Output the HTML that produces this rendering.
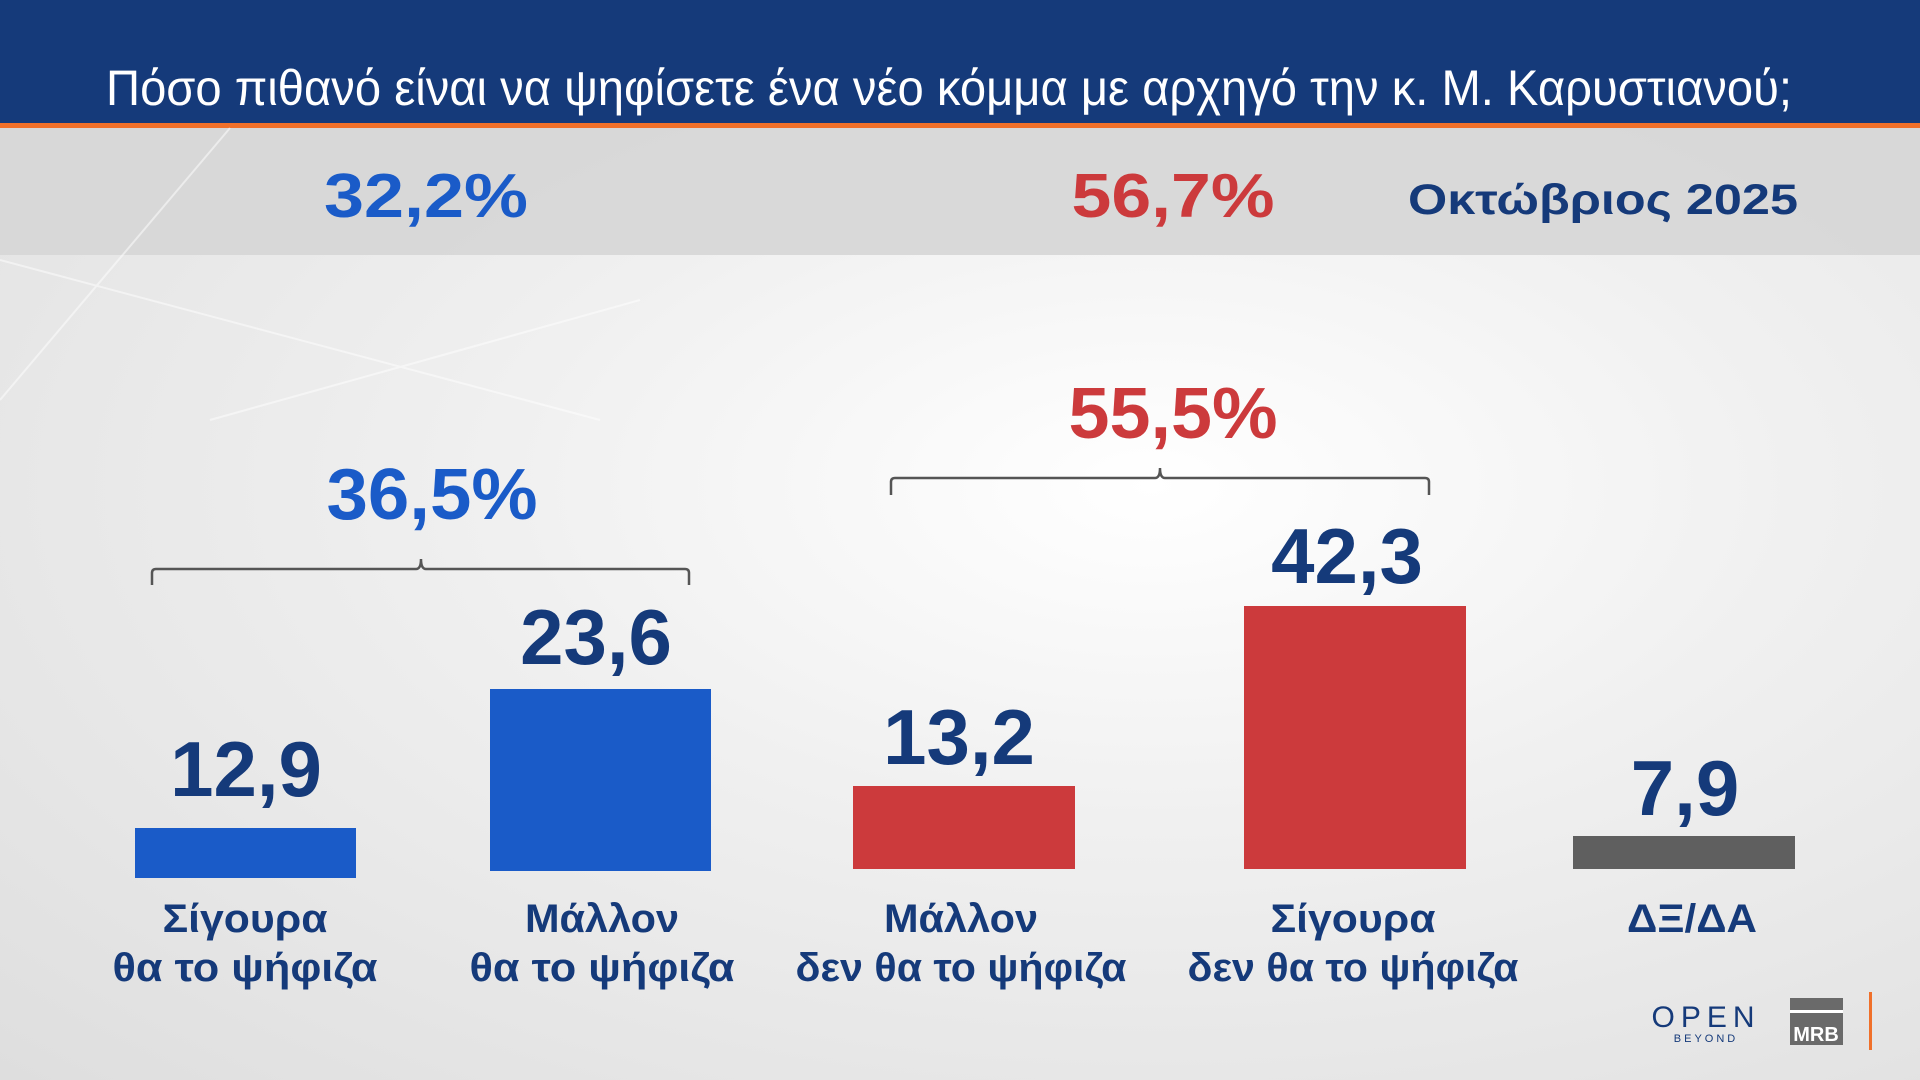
<!DOCTYPE html>
<html><head><meta charset="utf-8"><style>
html,body{margin:0;padding:0;width:1920px;height:1080px;overflow:hidden}
body{background:radial-gradient(ellipse at 60% 45%,#ffffff 0%,#f0f0f0 40%,#dedede 100%)}
svg{position:absolute;left:0;top:0}
text{font-family:"Liberation Sans",sans-serif}
</style></head><body>
<svg width="1920" height="1080" viewBox="0 0 1920 1080">
<rect x="0" y="0" width="1920" height="124" fill="#153a7a"/>
<rect x="0" y="123" width="1920" height="5" fill="#f0702a"/>
<rect x="0" y="128" width="1920" height="127" fill="#d6d6d6" opacity="0.9"/>
<g stroke="#ffffff" stroke-width="2" opacity="0.5" fill="none">
<line x1="0" y1="400" x2="230" y2="128"/><line x1="0" y1="260" x2="600" y2="420"/><line x1="210" y1="420" x2="640" y2="300"/>
</g>
<text x="949" y="105" font-size="50" fill="#fff" text-anchor="middle" textLength="1686" lengthAdjust="spacingAndGlyphs">Πόσο πιθανό είναι να ψηφίσετε ένα νέο κόμμα με αρχηγό την κ. Μ. Καρυστιανού;</text>
<g font-weight="bold" text-anchor="middle">
<text x="426" y="217" font-size="62" fill="#1a5bc8" textLength="204" lengthAdjust="spacingAndGlyphs">32,2%</text>
<text x="1173" y="217" font-size="62" fill="#cc3a3c" textLength="203" lengthAdjust="spacingAndGlyphs">56,7%</text>
<text x="1603" y="214" font-size="43" fill="#153a7a" textLength="390" lengthAdjust="spacingAndGlyphs">Οκτώβριος 2025</text>
<text x="432" y="519" font-size="72" fill="#1a5bc8" textLength="211" lengthAdjust="spacingAndGlyphs">36,5%</text>
<text x="1173" y="438" font-size="72" fill="#cc3a3c" textLength="209" lengthAdjust="spacingAndGlyphs">55,5%</text>
</g>
<g fill="none" stroke="#555" stroke-width="2.5">
<path d="M152 585 V573 Q152 569 156 569 H416 Q421 569 421 559 Q421 569 426 569 H685 Q689 569 689 573 V585"/>
<path d="M891 495 V482 Q891 478 895 478 H1155 Q1160 478 1160 468 Q1160 478 1165 478 H1425 Q1429 478 1429 482 V495"/>
</g>
<rect x="135" y="828" width="221" height="50" fill="#1a5bc8"/>
<rect x="490" y="689" width="221" height="182" fill="#1a5bc8"/>
<rect x="853" y="786" width="222" height="83" fill="#cc3a3c"/>
<rect x="1244" y="606" width="222" height="263" fill="#cc3a3c"/>
<rect x="1573" y="836" width="222" height="33" fill="#5f5f5f"/>
<g font-weight="bold" text-anchor="middle" fill="#153a7a" font-size="78">
<text x="246" y="796">12,9</text>
<text x="596" y="664">23,6</text>
<text x="959" y="764">13,2</text>
<text x="1347" y="583">42,3</text>
<text x="1685" y="815">7,9</text>
</g>
<g font-weight="bold" text-anchor="middle" fill="#153a7a" font-size="40">
<text x="245" y="932" textLength="165" lengthAdjust="spacingAndGlyphs">Σίγουρα</text><text x="245" y="981" textLength="265" lengthAdjust="spacingAndGlyphs">θα το ψήφιζα</text>
<text x="602" y="932" textLength="154" lengthAdjust="spacingAndGlyphs">Μάλλον</text><text x="602" y="981" textLength="265" lengthAdjust="spacingAndGlyphs">θα το ψήφιζα</text>
<text x="961" y="932" textLength="154" lengthAdjust="spacingAndGlyphs">Μάλλον</text><text x="961" y="981" textLength="331" lengthAdjust="spacingAndGlyphs">δεν θα το ψήφιζα</text>
<text x="1353" y="932" textLength="165" lengthAdjust="spacingAndGlyphs">Σίγουρα</text><text x="1353" y="981" textLength="331" lengthAdjust="spacingAndGlyphs">δεν θα το ψήφιζα</text>
<text x="1692" y="932" textLength="130" lengthAdjust="spacingAndGlyphs">ΔΞ/ΔΑ</text>
</g>
<text x="1706" y="1027" font-size="30" fill="#153a7a" text-anchor="middle" letter-spacing="6">OPEN</text>
<text x="1706" y="1042" font-size="11" fill="#153a7a" text-anchor="middle" letter-spacing="3">BEYOND</text>
<rect x="1790" y="998" width="53" height="47" fill="#6a6a6a"/>
<rect x="1790" y="1010" width="53" height="3" fill="#fff"/>
<text x="1816" y="1041" font-size="20" font-weight="bold" fill="#fff" text-anchor="middle">MRB</text>
<rect x="1869" y="992" width="3" height="58" fill="#f0702a"/>
</svg>
</body></html>
